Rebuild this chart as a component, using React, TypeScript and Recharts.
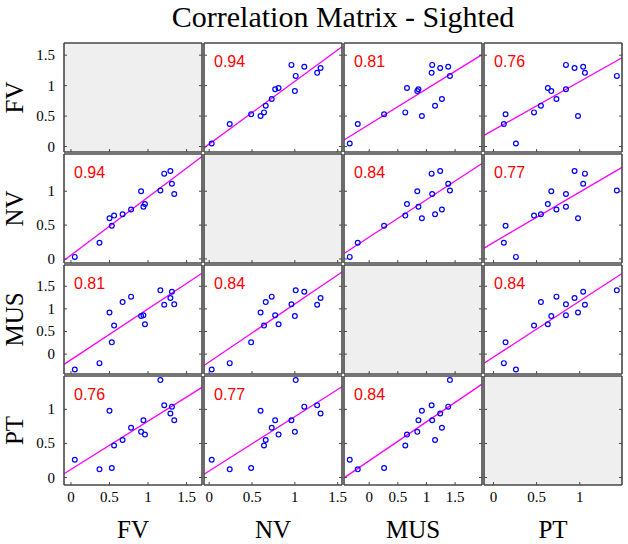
import React from "react";
import { ScatterChart, Scatter, XAxis, YAxis, ReferenceLine } from "recharts";

// values per subject (15 subjects)
const variables = ["FV", "NV", "MUS", "PT"];
const FV = [0.05, 0.37, 0.5, 0.53, 0.56, 0.67, 0.78, 0.91, 0.94, 0.96, 1.16, 1.21, 1.29, 1.31, 1.34];
const NV = [0.03, 0.24, 0.6, 0.49, 0.64, 0.66, 0.73, 1.0, 0.77, 0.81, 1.01, 1.26, 1.3, 1.11, 0.96];
const MUS = [-0.34, -0.2, 0.92, 0.26, 0.63, 1.15, 1.27, 0.84, 0.86, 0.66, 1.41, 1.09, 1.24, 1.38, 1.1];
const PT = [0.26, 0.12, 0.98, 0.14, 0.47, 0.55, 0.73, 0.67, 0.84, 0.63, 1.43, 1.06, 0.94, 1.04, 0.84];

const correlations = [
  [null, "0.94", "0.81", "0.76"],
  ["0.94", null, "0.84", "0.77"],
  ["0.81", "0.84", null, "0.84"],
  ["0.76", "0.77", "0.84", null],
];

const domains = [
  [-0.09, 1.7],
  [-0.06, 1.55],
  [-0.44, 1.97],
  [-0.11, 1.49],
];
const xTicks = [
  [0, 0.5, 1, 1.5],
  [0, 0.5, 1, 1.5],
  [0, 0.5, 1, 1.5],
  [0, 0.5, 1],
];
const yTicks = [
  [0, 0.5, 1, 1.5],
  [0, 0.5, 1],
  [0, 0.5, 1, 1.5],
  [0, 0.5, 1],
];

const series = [FV, NV, MUS, PT];

const colLeft = [64, 204, 344, 484];
const rowTop = [43, 154, 265, 376];
const PW = 138;
const PH = 109;
const AXIS = "#474747";
const SERIF = "'Liberation Serif', 'Times New Roman', serif";

function fit(xs: number[], ys: number[]) {
  const n = xs.length;
  const mx = xs.reduce((a, b) => a + b, 0) / n;
  const my = ys.reduce((a, b) => a + b, 0) / n;
  let sxy = 0;
  let sxx = 0;
  for (let i = 0; i < n; i++) {
    sxy += (xs[i] - mx) * (ys[i] - my);
    sxx += (xs[i] - mx) * (xs[i] - mx);
  }
  const m = sxy / sxx;
  return { m, b: my - m * mx };
}

// clip the fit line to the panel's box
function fitSegment(xs: number[], ys: number[], xd: number[], yd: number[]) {
  const { m, b } = fit(xs, ys);
  const pt = (x: number) => {
    let y = m * x + b;
    if (y < yd[0]) {
      y = yd[0];
      x = (y - b) / m;
    } else if (y > yd[1]) {
      y = yd[1];
      x = (y - b) / m;
    }
    return { x, y };
  };
  return [pt(xd[0]), pt(xd[1])];
}

const labelStyle = { fontFamily: SERIF, fontSize: 15, fill: "#000" };
const axisLine = { stroke: AXIS, strokeWidth: 1.6 };

function Panel({ row, col }: { row: number; col: number }) {
  const diag = row === col;
  const xd = domains[col];
  const yd = domains[row];
  const data = diag ? [] : series[col].map((v, i) => ({ x: v, y: series[row][i] }));
  const seg = diag ? null : fitSegment(series[col], series[row], xd, yd);

  // axes take 1px on each side, so the chart is 2px bigger than the plot box
  return (
    <div style={{ position: "absolute", left: colLeft[col] - 1, top: rowTop[row] - 1 }}>
      {diag && (
        <div style={{ position: "absolute", left: 1, top: 1, width: PW, height: PH, background: "#efefef" }} />
      )}
      <ScatterChart width={PW + 2} height={PH + 2} margin={{ top: 0, right: 0, bottom: 0, left: 0 }}>
        <XAxis
          xAxisId="b"
          type="number"
          dataKey="x"
          orientation="bottom"
          domain={xd}
          ticks={xTicks[col]}
          allowDataOverflow
          interval={0}
          height={1}
          tickSize={0}
          tickMargin={0}
          tickLine={false}
          axisLine={axisLine}
          tick={(p: any) => (
            <g>
              <line x1={p.x} y1={p.y} x2={p.x} y2={p.y - 3} stroke={AXIS} />
              {row === 3 && (
                <text x={p.x} y={p.y + 12} textAnchor="middle" dominantBaseline="central" style={labelStyle}>
                  {String(p.payload.value)}
                </text>
              )}
            </g>
          )}
        />
        <XAxis
          xAxisId="t"
          type="number"
          orientation="top"
          domain={xd}
          ticks={xTicks[col]}
          allowDataOverflow
          interval={0}
          height={1}
          tickSize={0}
          tickMargin={0}
          tickLine={false}
          axisLine={axisLine}
          tick={(p: any) => <line x1={p.x} y1={p.y} x2={p.x} y2={p.y + 3} stroke={AXIS} />}
        />
        <YAxis
          yAxisId="l"
          type="number"
          dataKey="y"
          orientation="left"
          domain={yd}
          ticks={yTicks[row]}
          allowDataOverflow
          interval={0}
          width={1}
          tickSize={0}
          tickMargin={0}
          tickLine={false}
          axisLine={axisLine}
          tick={(p: any) => (
            <g>
              <line x1={p.x} y1={p.y} x2={p.x + 3} y2={p.y} stroke={AXIS} />
              {col === 0 && (
                <text x={p.x - 9} y={p.y} textAnchor="end" dominantBaseline="central" style={labelStyle}>
                  {String(p.payload.value)}
                </text>
              )}
            </g>
          )}
        />
        <YAxis
          yAxisId="r"
          type="number"
          orientation="right"
          domain={yd}
          ticks={yTicks[row]}
          allowDataOverflow
          interval={0}
          width={1}
          tickSize={0}
          tickMargin={0}
          tickLine={false}
          axisLine={axisLine}
          tick={(p: any) => <line x1={p.x} y1={p.y} x2={p.x - 3} y2={p.y} stroke={AXIS} />}
        />
        {seg && (
          <ReferenceLine
            xAxisId="b"
            yAxisId="l"
            segment={seg}
            ifOverflow="visible"
            stroke="#ff00ff"
            strokeWidth={1.3}
          />
        )}
        {!diag && (
          <Scatter
            xAxisId="b"
            yAxisId="l"
            data={data}
            isAnimationActive={false}
            shape={(p: any) => (
              <circle cx={p.cx} cy={p.cy} r={2.4} fill="none" stroke="#0000ff" strokeWidth={1.2} />
            )}
          />
        )}
      </ScatterChart>
      {correlations[row][col] && (
        <div
          style={{
            position: "absolute",
            left: 11,
            top: 12,
            fontFamily: "'Liberation Sans', Arial, sans-serif",
            fontSize: 16,
            lineHeight: 1,
            color: "#ff0000",
          }}
        >
          {correlations[row][col]}
        </div>
      )}
    </div>
  );
}

export default function App() {
  return (
    <div style={{ position: "absolute", left: 0, top: 0, width: 628, height: 544, background: "#fff" }}>
      <style>{`.recharts-surface{overflow:visible}`}</style>
      {variables.map((_, r) => variables.map((__, c) => <Panel key={`${r}-${c}`} row={r} col={c} />))}
      <svg width={628} height={544} style={{ position: "absolute", left: 0, top: 0, pointerEvents: "none" }}>
        <text x={343} y={27} textAnchor="middle" style={{ fontFamily: SERIF, fontSize: 30, fill: "#000" }}>
          Correlation Matrix - Sighted
        </text>
        {variables.map((v, r) => {
          const cy = rowTop[r] + PH / 2;
          return (
            <text
              key={`row-${v}`}
              x={23}
              y={cy}
              textAnchor="middle"
              transform={`rotate(-90, 23, ${cy})`}
              style={{ fontFamily: SERIF, fontSize: 25, fill: "#000" }}
            >
              {v}
            </text>
          );
        })}
        {variables.map((v, c) => (
          <text
            key={`col-${v}`}
            x={colLeft[c] + PW / 2}
            y={538}
            textAnchor="middle"
            style={{ fontFamily: SERIF, fontSize: 25, fill: "#000" }}
          >
            {v}
          </text>
        ))}
      </svg>
    </div>
  );
}
